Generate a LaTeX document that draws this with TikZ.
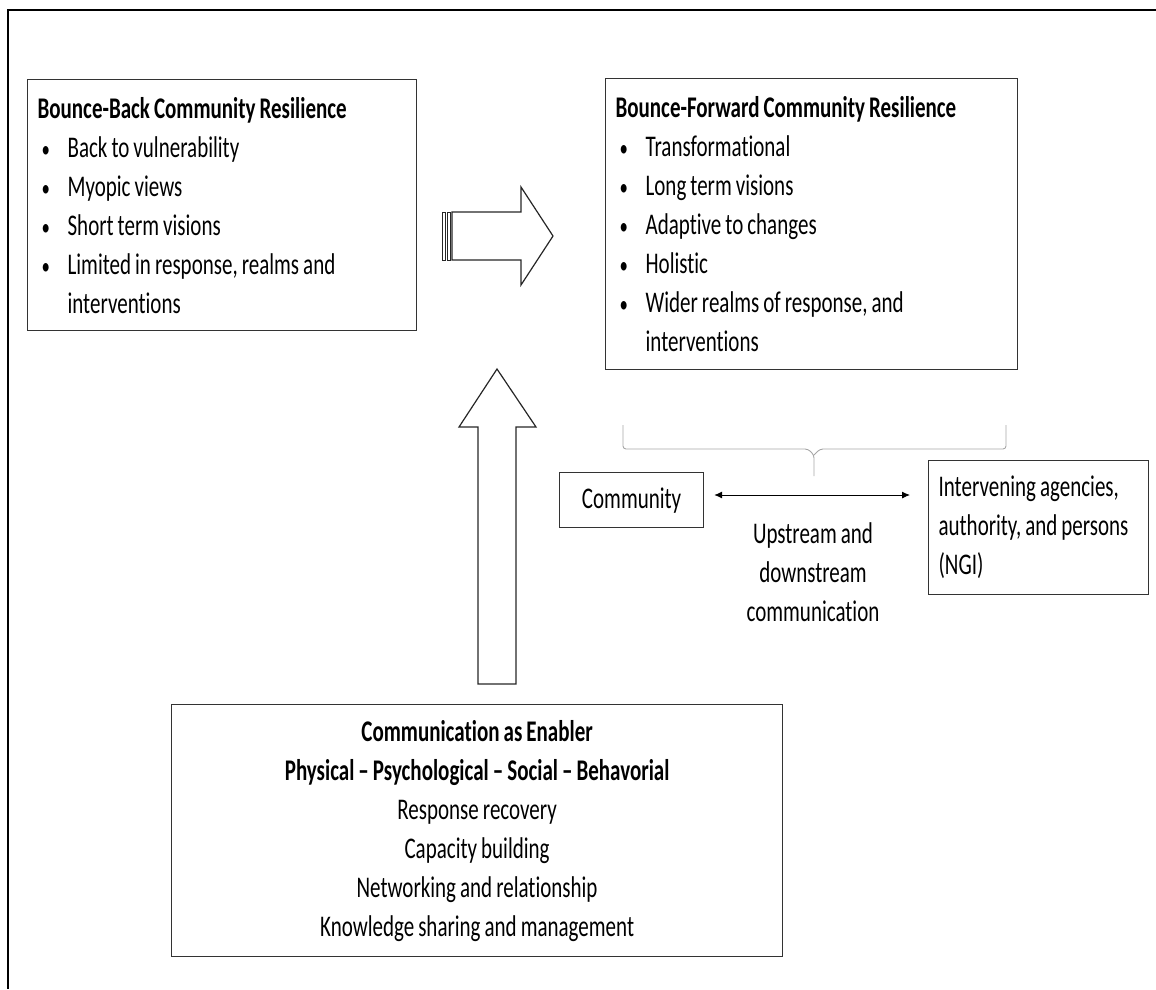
\documentclass[tikz,border=0pt]{standalone}
\usepackage{fontspec}
\setmainfont{Carlito}[FakeStretch=0.7, WordSpace=0.85, Ligatures=NoCommon]
\usetikzlibrary{arrows.meta,positioning}
\newcommand{\bitem}[1]{\hspace*{4pt}\makebox[26pt][l]{\scalebox{0.8}{\textbullet}}#1}
\newcommand{\bcont}[1]{\hspace*{30pt}#1}
\hyphenpenalty=10000

\begin{document}
\begin{tikzpicture}[x=1pt, y=-1pt,
  font=\fontsize{30pt}{39pt}\selectfont,
  panel/.style={draw=black!80, line width=1.2pt, anchor=north west, inner xsep=10pt, inner ysep=0pt, align=flush left},
  blockarrow/.style={draw=black!85, line width=1.2pt, line join=miter},
  bracecol/.style={draw=gray!70, line width=0.9pt, rounded corners=3pt},
  twoway/.style={{Latex[length=8pt,width=7pt]}-{Latex[length=8pt,width=7pt]}, line width=0.9pt}]
\useasboundingbox (0,0) rectangle (1156,989);
% outer frame
\draw[line width=1.5pt] (1156,10) -- (8,10) -- (8,989);

% resilience panels
\node[panel, minimum width=389pt, minimum height=251pt, text width=369pt] (back) at (27,79)
  {\textbf{Bounce-Back Community Resilience}\\
   \bitem{Back to vulnerability}\\
   \bitem{Myopic views}\\
   \bitem{Short term visions}\\
   \bitem{Limited in response, realms and}\\
   \bcont{interventions}};
\node[panel, minimum width=412pt, minimum height=291pt, text width=392pt] (fwd) at (605,78)
  {\textbf{Bounce-Forward Community Resilience}\\
   \bitem{Transformational}\\
   \bitem{Long term visions}\\
   \bitem{Adaptive to changes}\\
   \bitem{Holistic}\\
   \bitem{Wider realms of response, and}\\
   \bcont{interventions}};

% striped arrow back -> forward
\foreach \a/\b in {442/445, 447/450}
  \draw[blockarrow, line width=0.9pt] (\a,212) rectangle (\b,260);
\draw[blockarrow] (452,212) -- (521,212) -- (521,187) -- (553,236) -- (521,285) -- (521,260) -- (452,260) -- cycle;

% up arrow from enabler
\draw[blockarrow] (478,684) -- (478,427) -- (459,427) -- (497,369) -- (536,427) -- (516,427) -- (516,684) -- cycle;

% brace under forward panel
\draw[bracecol] (623,425) -- (623,449) -- (808,449) -- (814,455) -- (814,476);
\draw[bracecol] (1006,425) -- (1006,449) -- (820,449) -- (814,455);

% actors
\node[panel, minimum width=144pt, minimum height=55pt] (comm) at (559,472) {Community};
\node[panel, minimum width=215pt, minimum height=134pt, text width=200pt] (ngi) at (928,460)
  {Intervening agencies,\\ authority, and persons\\ (NGI)};
\coordinate (flow) at (0,495);
\draw[twoway, shorten <=10pt, shorten >=18pt] (comm.east |- flow) -- (ngi.west |- flow);
\node[align=center] (updown) at (813,572) {Upstream and\\ downstream\\ communication};

% enabler panel
\node[panel, minimum width=611pt, minimum height=252pt, text width=591pt, align=flush center] (enabler) at (171,704)
  {\textbf{Communication as Enabler}\\
   \textbf{Physical – Psychological – Social – Behavorial}\\
   Response recovery\\
   Capacity building\\
   Networking and relationship\\
   Knowledge sharing and management};
\end{tikzpicture}
\end{document}
